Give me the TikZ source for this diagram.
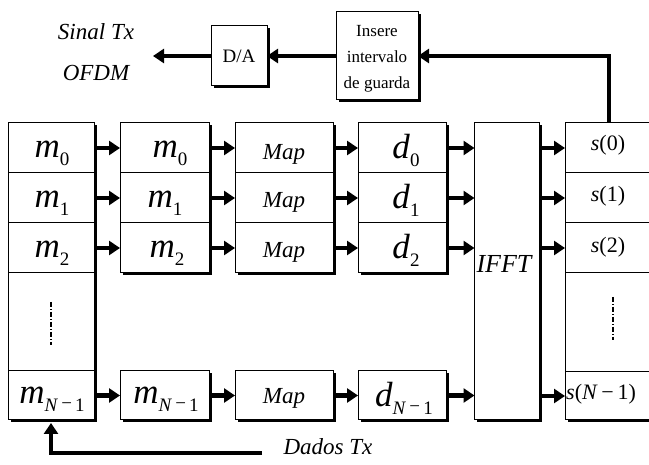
\documentclass[tikz,border=0pt]{standalone}
\usepackage{fontspec}
\setmainfont{Liberation Serif}
\usetikzlibrary{arrows.meta,shadows,calc}
\newcommand{\msub}[2]{\textit{#1}\raisebox{-0.5ex}{\fontsize{19}{19}\selectfont #2}}
\newcommand{\nmo}{\textit{N}\,\raisebox{0.15ex}{−}\,1}
\begin{document}
\begin{tikzpicture}[x=1pt,y=-1pt,
  cell/.style={draw, line width=1pt, fill=white, inner sep=0pt, outer sep=0pt},
  shad/.style={general shadow={fill=black, shadow xshift=2.5pt, shadow yshift=-2.5pt}},
  arr/.style={line width=4.5pt, -{Triangle[length=11pt,width=14pt]}},
  big/.style={font=\fontsize{35}{35}\selectfont},
  mid/.style={font=\fontsize{23}{23}\selectfont\itshape},
  sf/.style={font=\fontsize{22}{22}\selectfont},
  lab/.style={font=\fontsize{23}{23}\selectfont\itshape},
  dotl/.style={line width=1.2pt, dash pattern=on 5pt off 2pt on 1pt off 2pt}
]
\clip (0,0) rectangle (649,465);
\fill[white] (0,0) rectangle (649,465);

% column 1 (m)
\begin{scope}[cell/.append style={minimum width=86pt}]
\node[cell,shad,minimum height=50pt] (a0) at (51,148) {};
\node[cell,shad,minimum height=50pt] (a1) at (51,198) {};
\node[cell,shad,minimum height=50pt] (a2) at (51,248) {};
\node[cell,shad,minimum height=98pt] (ad) at (51,322) {};
\node[cell,shad,minimum height=49pt] (aN) at (51,395.5) {};
\end{scope}
% column 2 (m)
\begin{scope}[cell/.append style={minimum width=89pt}]
\node[cell,shad,minimum height=50pt] (b0) at (164.5,148) {};
\node[cell,shad,minimum height=50pt] (b1) at (164.5,198) {};
\node[cell,shad,minimum height=50pt] (b2) at (164.5,248) {};
\node[cell,shad,minimum height=49pt] (bN) at (164.5,395.5) {};
\end{scope}
% column 3 (Map)
\begin{scope}[cell/.append style={minimum width=98pt}]
\node[cell,shad,minimum height=50pt] (c0) at (284,148) {};
\node[cell,shad,minimum height=50pt] (c1) at (284,198) {};
\node[cell,shad,minimum height=50pt] (c2) at (284,248) {};
\node[cell,shad,minimum height=49pt] (cN) at (284,395.5) {};
\end{scope}
% column 4 (d)
\begin{scope}[cell/.append style={minimum width=88pt}]
\node[cell,shad,minimum height=50pt] (d0) at (402,148) {};
\node[cell,shad,minimum height=50pt] (d1) at (402,198) {};
\node[cell,shad,minimum height=50pt] (d2) at (402,248) {};
\node[cell,shad,minimum height=49pt] (dN) at (402,395.5) {};
\end{scope}
% IFFT
\node[cell,shad,minimum width=65pt,minimum height=297pt] (ifft) at (507,271.5) {};
% column s
\begin{scope}[cell/.append style={minimum width=88pt}]
\node[cell,shad,minimum height=50pt] (s0) at (609,148) {};
\node[cell,shad,minimum height=50pt] (s1) at (609,198) {};
\node[cell,shad,minimum height=50pt] (s2) at (609,248) {};
\node[cell,shad,minimum height=99pt] (sd) at (609,322.5) {};
\node[cell,shad,minimum height=48pt] (sN) at (609,396) {};
\end{scope}
% top boxes
\node[cell,shad,minimum width=82pt,minimum height=88pt] (ins) at (377,56) {};
\node[cell,shad,minimum width=56pt,minimum height=60pt] (da) at (239,56) {};

% texts
\node[big] (ta0) at (52,153) {\msub{m}{0}};
\node[big] (ta1) at (52,203) {\msub{m}{1}};
\node[big] (ta2) at (52,253) {\msub{m}{2}};
\node[big] (taN) at (52,399) {\msub{m}{\nmo}};
\node[big] (tb0) at (170,153) {\msub{m}{0}};
\node[big] (tb1) at (165,203) {\msub{m}{1}};
\node[big] (tb2) at (167,253) {\msub{m}{2}};
\node[big] (tbN) at (166,399) {\msub{m}{\nmo}};
\node[mid] (tc0) at (284,154) {Map};
\node[mid] (tc1) at (284,202) {Map};
\node[mid] (tc2) at (284,252) {Map};
\node[mid] (tcN) at (284,398) {Map};
\node[big] (td0) at (406,150) {\msub{d}{0}};
\node[big] (td1) at (406,200) {\msub{d}{1}};
\node[big] (td2) at (406,250) {\msub{d}{2}};
\node[big] (tdN) at (404,398) {\msub{d}{\nmo}};
\node[font=\fontsize{26}{26}\selectfont\itshape] (tfft) at (504,264) {IFFT};
\node[sf] (ts0) at (608,145) {\textit{s}(0)};
\node[sf] (ts1) at (608,196) {\textit{s}(1)};
\node[sf] (ts2) at (608,247) {\textit{s}(2)};
\node[sf,anchor=west,inner sep=0pt] (tsN) at (566,394) {\textit{s}(\textit{N}\,−\,1)};
\node[font=\fontsize{19}{19}\selectfont] (tda) at (239,56) {D/A};
\node[font=\fontsize{17}{26}\selectfont,align=center] (tins) at (377,59) {Insere\\intervalo\\de guarda};
\node[lab] (tsig) at (96,32) {Sinal Tx};
\node[lab] (tofdm) at (96,73) {OFDM};
\node[lab] (tdad) at (328,447) {Dados Tx};

% dots
\draw[dotl] (51,302) -- (51,345);
\draw[dotl] (613,297) -- (613,340);

% arrows between columns
\foreach \r in {0,1,2,N}{
  \draw[arr] (a\r.east) -- (b\r.west);
  \draw[arr] (b\r.east) -- (c\r.west);
  \draw[arr] (c\r.east) -- (d\r.west);
  \draw[arr] (d\r.east) -- (d\r.east -| ifft.west);
  \draw[arr] (s\r.west -| ifft.east) -- (s\r.west);
}
% top chain
\draw[arr] (s0.north) |- (ins.east);
\draw[arr] (ins.west) -- (da.east);
\coordinate (sigend) at (153,56);
\draw[arr] (da.west) -- (sigend);
% input
\coordinate (dadst) at (262,453);
\draw[arr,shorten >=3pt] (dadst) -| (aN.south);
\end{tikzpicture}
\end{document}
